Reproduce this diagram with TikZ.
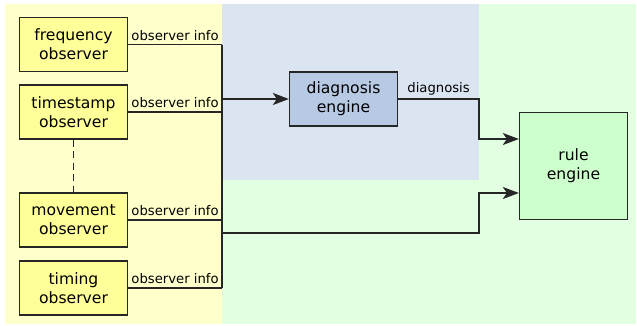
\documentclass[tikz,border=0pt]{standalone}
\usepackage{fontspec}
\setmainfont{DejaVu Sans}
\usetikzlibrary{arrows.meta,positioning}
\definecolor{obsback}{HTML}{FFFFCC}
\definecolor{obsfill}{HTML}{FFFF99}
\definecolor{diagback}{HTML}{DBE4F1}
\definecolor{diagfill}{HTML}{B8C9E3}
\definecolor{ruleback}{HTML}{E2FFE2}
\definecolor{rulefill}{HTML}{CCFFCC}
\newcommand{\obsline}[1]{\draw[wire] (#1.east) -- node[info] {observer info} (#1.east -| bus);}

\begin{document}
\begin{tikzpicture}[x=1pt,y=-1pt,>={Stealth[length=16pt,width=12pt,inset=4pt]},
  block/.style={draw=black!85,line width=1.3pt,minimum width=108pt,minimum height=54pt,
    align=center,font=\fontsize{15.6}{19}\selectfont},
  obs/.style={block,fill=obsfill},
  wire/.style={line width=1.3pt,draw=black!85},
  info/.style={above,inner sep=3.5pt,font=\fontsize{13.2}{15}\selectfont}]
  \useasboundingbox (0,0) rectangle (637,325);
  \fill[obsback] (5,4) rectangle (222,324);
  \fill[ruleback] (222,4) rectangle (636,324);
  \fill[diagback] (222,4) rectangle (479,180);
  \node[obs] (freq) at (73.5,44.5) {frequency\\observer};
  \node[obs] (stamp) at (73.5,112) {timestamp\\observer};
  \node[obs] (move) at (73.5,220) {movement\\observer};
  \node[obs] (timing) at (73.5,288) {timing\\observer};
  \node[block,fill=diagfill] (diag) at (343.5,99) {diagnosis\\engine};
  \node[block,fill=rulefill,minimum height=107pt] (rule) at (573.5,166) {rule\\engine};
  \coordinate (bus) at (222,0);
  \coordinate (turn) at (479,0);
  \coordinate (tap) at (222,233);
  \coordinate (rulehigh) at ([yshift=27pt]rule.west);
  \coordinate (rulelow) at ([yshift=-27pt]rule.west);
  \draw[wire,dash pattern=on 7pt off 4.5pt] (stamp) -- (move);
  \obsline{freq}
  \obsline{stamp}
  \obsline{move}
  \obsline{timing}
  \draw[wire] (freq.east -| bus) -- (timing.east -| bus);
  \draw[wire,->,line width=2.2pt] (diag.west -| bus) -- (diag.west);
  \draw[wire,->] (diag.east) -- node[info] {diagnosis} (diag.east -| turn)
    -- (turn |- rulehigh) -- (rulehigh);
  \draw[wire,->] (tap) -- (tap -| turn) -- (turn |- rulelow) -- (rulelow);
\end{tikzpicture}
\end{document}
